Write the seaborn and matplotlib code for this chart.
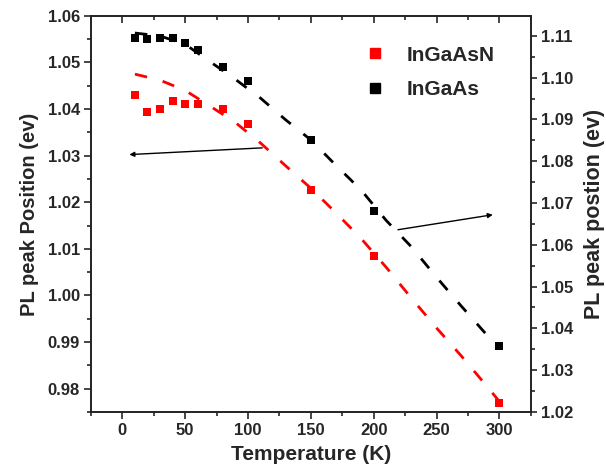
import matplotlib
matplotlib.use('Agg')
import matplotlib.pyplot as plt
import seaborn as sns
import pandas as pd
from matplotlib.lines import Line2D
from matplotlib.ticker import MultipleLocator

# =============================================================================
# Data
# =============================================================================
temperature = [10, 20, 30, 40, 50, 60, 80, 100, 150, 200, 300]
ingaasn_peak = [1.0431, 1.0394, 1.0401, 1.0418, 1.0411, 1.0411, 1.0401, 1.0368, 1.0227, 1.0085, 0.9768]
ingaas_peak = [1.1096, 1.1093, 1.1094, 1.1094, 1.1084, 1.1066, 1.1025, 1.0992, 1.0851, 1.0681, 1.0357]

# dashed fit curves
fit_temperature = [10, 30, 50, 70, 90, 110, 130, 150, 170, 190, 210, 230, 250, 270, 290, 300]
ingaasn_fit = [1.0475, 1.0462, 1.0440, 1.0406, 1.0371, 1.0327, 1.0278, 1.0230, 1.0177, 1.0122, 1.0060, 0.9994, 0.9930, 0.9869, 0.9805, 0.9772]
ingaas_fit = [1.1107, 1.1100, 1.1080, 1.1038, 1.0996, 1.0951, 1.0899, 1.0851, 1.0790, 1.0731, 1.0658, 1.0595, 1.0522, 1.0452, 1.0384, 1.0355]

series_labels = ['InGaAsN', 'InGaAs']
series_colors = ['#ff0000', '#000000']

points_df = pd.DataFrame({'T': temperature, 'InGaAsN': ingaasn_peak, 'InGaAs': ingaas_peak})
fit_df = pd.DataFrame({'T': fit_temperature, 'InGaAsN': ingaasn_fit, 'InGaAs': ingaas_fit})

# =============================================================================
# Style
# =============================================================================
sns.set_style('ticks')
plt.rcParams['font.family'] = ['Liberation Sans', 'DejaVu Sans']
plt.rcParams['font.weight'] = 'bold'
plt.rcParams['axes.labelweight'] = 'bold'

fig = plt.figure(figsize=(6.06, 4.68), dpi=100)
ax = fig.add_axes([0.150, 0.120, 0.726, 0.846])
ax2 = ax.twinx()

# left axis: InGaAsN
sns.lineplot(data=fit_df, x='T', y='InGaAsN', ax=ax, color=series_colors[0],
             linewidth=2, dashes=False, estimator=None, sort=False)
ax.lines[-1].set_dashes((4.5, 5.8))
sns.scatterplot(data=points_df, x='T', y='InGaAsN', ax=ax, color=series_colors[0],
                marker='s', s=40, linewidth=0, zorder=3)

# right axis: InGaAs
sns.lineplot(data=fit_df, x='T', y='InGaAs', ax=ax2, color=series_colors[1],
             linewidth=2, dashes=False, estimator=None, sort=False)
ax2.lines[-1].set_dashes((4.5, 5.8))
sns.scatterplot(data=points_df, x='T', y='InGaAs', ax=ax2, color=series_colors[1],
                marker='s', s=40, linewidth=0, zorder=3)

ax.set_xlim(-25, 325)
ax.set_ylim(0.975, 1.06)
ax2.set_ylim(1.02, 1.1148)

ax.xaxis.set_major_locator(MultipleLocator(50))
ax.xaxis.set_minor_locator(MultipleLocator(25))
ax.yaxis.set_major_locator(MultipleLocator(0.01))
ax.yaxis.set_minor_locator(MultipleLocator(0.005))
ax2.yaxis.set_major_locator(MultipleLocator(0.01))
ax2.yaxis.set_minor_locator(MultipleLocator(0.005))
ax.yaxis.set_major_formatter(matplotlib.ticker.FormatStrFormatter('%.2f'))
ax2.yaxis.set_major_formatter(matplotlib.ticker.FormatStrFormatter('%.2f'))

for a in (ax, ax2):
    for sp in a.spines.values():
        sp.set_linewidth(1.2)
        sp.set_color('#222222')

ax.tick_params(axis='both', which='major', labelsize=12, length=5, width=1.2, pad=3)
ax.tick_params(axis='both', which='minor', length=3, width=1.2)
ax.tick_params(axis='x', which='both', top=True)
ax2.tick_params(axis='y', which='major', labelsize=12, length=4, width=1.2, pad=3)
ax2.tick_params(axis='y', which='minor', length=3, width=1.2)
# top ticks point inward
for t in ax.xaxis.get_major_ticks() + ax.xaxis.get_minor_ticks():
    t.tick2line.set_marker(matplotlib.lines.TICKDOWN)

for lbl in ax.get_xticklabels() + ax.get_yticklabels() + ax2.get_yticklabels():
    lbl.set_fontweight('bold')

ax.set_xlabel('Temperature (K)', fontsize=15, fontweight='bold', labelpad=5)
ax.set_ylabel('PL peak Position (ev)', fontsize=14.5, fontweight='bold', labelpad=6)
ax2.set_ylabel('PL peak postion (ev)', fontsize=15.5, fontweight='bold', labelpad=8)

# arrows pointing to each axis
ax.annotate('', xy=(3.4, 1.0302), xytext=(113.5, 1.0317),
            arrowprops=dict(arrowstyle='-|>', color='black', lw=1.0, mutation_scale=7))
ax2.annotate('', xy=(296.9, 1.0673), xytext=(217.1, 1.0635),
             arrowprops=dict(arrowstyle='-|>', color='black', lw=1.0, mutation_scale=7))

# legend
handles = [Line2D([], [], linestyle='none', marker='s', markersize=7, color=c) for c in series_colors]
ax2.legend(handles, series_labels, loc='upper left', bbox_to_anchor=(0.585, 0.925),
           bbox_transform=fig.transFigure, frameon=False,
           prop={'size': 15, 'weight': 'bold'}, handletextpad=1.0, labelspacing=0.75,
           borderpad=0, handlelength=1.0)

fig.savefig('out.png', dpi=100)
